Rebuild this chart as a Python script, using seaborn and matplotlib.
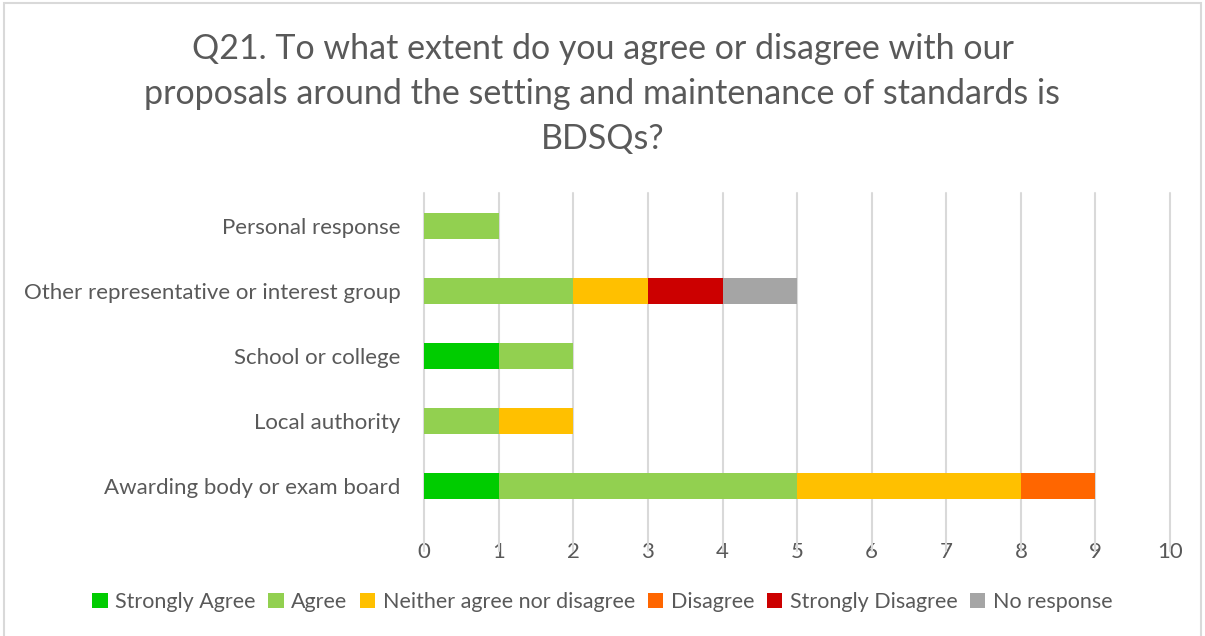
import numpy as np
import pandas as pd
import matplotlib
matplotlib.use("Agg")
import matplotlib.pyplot as plt
from matplotlib.patches import Patch
import seaborn as sns

categories = [
    "Personal response",
    "Other representative or interest group",
    "School or college",
    "Local authority",
    "Awarding body or exam board",
]
series_names = [
    "Strongly Agree",
    "Agree",
    "Neither agree nor disagree",
    "Disagree",
    "Strongly Disagree",
    "No response",
]
strongly_agree = [0, 0, 1, 0, 1]
agree = [1, 2, 1, 1, 4]
neither = [0, 1, 0, 1, 3]
disagree = [0, 0, 0, 0, 1]
strongly_disagree = [0, 1, 0, 0, 0]
no_response = [0, 1, 0, 0, 0]
x_ticks = [0, 1, 2, 3, 4, 5, 6, 7, 8, 9, 10]

colors = ["#00CC00", "#92D050", "#FFC000", "#FF6600", "#CC0000", "#A5A5A5"]
text_color = "#595959"

sns.set_theme(style="white")
plt.rcParams["font.family"] = ["Lato", "DejaVu Sans"]

values = np.array([strongly_agree, agree, neither, disagree, strongly_disagree, no_response])
cumulative = np.cumsum(values, axis=0)

fig = plt.figure(figsize=(12.05, 6.36), dpi=100)
ax = fig.add_axes([0.352, 0.1855, 0.619, 0.511])

# Stack by drawing cumulative totals from the outermost segment inwards
for i in range(len(series_names) - 1, -1, -1):
    df = pd.DataFrame({"category": categories, "total": cumulative[i]})
    sns.barplot(data=df, x="total", y="category", orient="h", color=colors[i],
                saturation=1, width=0.4, ax=ax, zorder=3, linewidth=0)

ax.set_xlim(0, 10)
ax.set_ylim(4.5, -0.5)
ax.set_xticks(x_ticks)
ax.set_xticklabels([str(t) for t in x_ticks])
ax.set_xlabel("")
ax.set_ylabel("")
for t in x_ticks:
    ax.plot([t, t], [4.5 + 0.5, -0.5], color="#D9D9D9", lw=1.5, zorder=1,
            clip_on=False)
for s in ax.spines.values():
    s.set_visible(False)
ax.tick_params(axis="both", length=0, labelsize=16, labelcolor=text_color)
ax.tick_params(axis="x", pad=17)
ax.tick_params(axis="y", pad=17)

fig.text(0.5, 1 - 94 / 636,
         "Q21. To what extent do you agree or disagree with our\n"
         "proposals around the setting and maintenance of standards is\n"
         "BDSQs?",
         ha="center", va="center", fontsize=24.5, color=text_color, linespacing=1.5)

handles = [Patch(facecolor=c, edgecolor="none") for c in colors]
fig.legend(handles, series_names, loc="center", bbox_to_anchor=(0.5, 0.053),
           ncol=6, frameon=False, fontsize=15.5, labelcolor=text_color,
           handlelength=0.7, handleheight=0.7, handletextpad=0.35, columnspacing=0.6)

# Outer chart border
fig.patches.append(plt.Rectangle((0.003, -0.01), 0.994, 1.005, transform=fig.transFigure,
                                 fill=False, edgecolor="#D9D9D9", lw=1.5))

fig.savefig("out.png", dpi=100)
